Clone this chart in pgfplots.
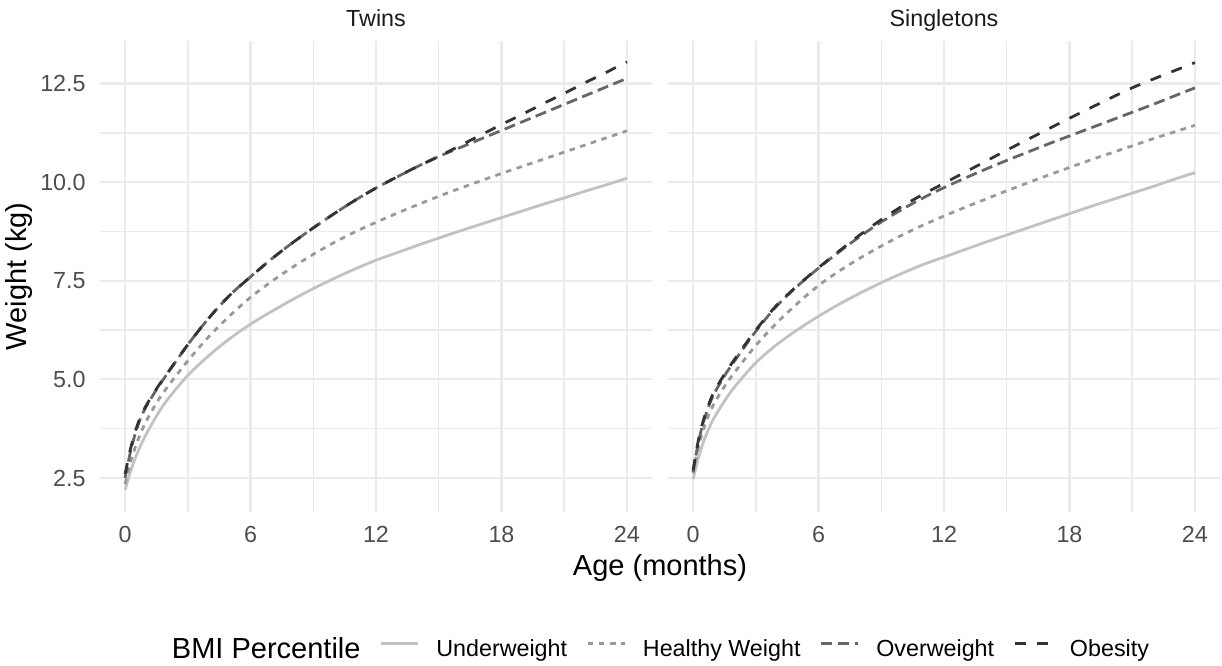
\documentclass[border=0pt]{standalone}
\usepackage{pgfplots}
\pgfplotsset{compat=1.18}
\usepackage{pgfplotstable}
\usepackage{fontspec}
\setmainfont{Liberation Sans}
\definecolor{gridc}{HTML}{EBEBEB}
\definecolor{tickc}{HTML}{4D4D4D}
\definecolor{stripc}{HTML}{1A1A1A}
\definecolor{cU}{HTML}{C2C2C2}
\definecolor{cH}{HTML}{999999}
\definecolor{cO}{HTML}{666666}
\definecolor{cB}{HTML}{333333}
\newcommand{\tickfont}{\fontsize{11.65}{13}\selectfont}
\newcommand{\bigfont}{\fontsize{14.5}{17}\selectfont}

\pgfplotstableread{
m u h ov ob
0 2.20 2.35 2.50 2.60
0.25 2.65 2.88 3.15 3.22
0.5 3.02 3.30 3.65 3.70
0.75 3.33 3.64 4.03 4.07
1 3.60 3.93 4.30 4.33
1.5 4.07 4.40 4.74 4.76
2 4.47 4.79 5.13 5.14
3 5.10 5.47 5.88 5.88
4 5.60 6.08 6.55 6.55
5 6.03 6.61 7.13 7.13
6 6.40 7.08 7.60 7.60
7 6.72 7.48 8.05 8.05
8 7.02 7.84 8.46 8.46
9 7.30 8.17 8.84 8.84
10 7.56 8.47 9.20 9.20
11 7.80 8.74 9.54 9.54
12 8.02 8.98 9.85 9.85
13 8.21 9.21 10.13 10.13
14 8.40 9.43 10.40 10.40
15 8.58 9.64 10.65 10.65
16 8.76 9.84 10.87 10.92
17 8.93 10.03 11.09 11.19
18 9.10 10.22 11.31 11.46
19 9.27 10.40 11.53 11.72
20 9.44 10.58 11.75 11.99
21 9.60 10.76 11.97 12.25
22 9.77 10.94 12.19 12.52
23 9.93 11.12 12.41 12.78
24 10.10 11.30 12.63 13.05
}\twins

\pgfplotstableread{
m u h ov ob
0 2.47 2.62 2.65 2.70
0.25 3.00 3.28 3.40 3.45
0.5 3.42 3.74 3.93 3.98
0.75 3.75 4.10 4.32 4.37
1 4.02 4.38 4.63 4.68
1.5 4.45 4.82 5.09 5.13
2 4.82 5.19 5.48 5.52
3 5.42 5.86 6.22 6.25
4 5.88 6.43 6.86 6.88
5 6.26 6.93 7.37 7.38
6 6.60 7.38 7.82 7.83
7 6.91 7.75 8.24 8.26
8 7.19 8.08 8.63 8.67
9 7.45 8.38 8.99 9.05
10 7.69 8.66 9.31 9.39
11 7.91 8.91 9.60 9.69
12 8.10 9.14 9.86 9.97
13 8.29 9.36 10.10 10.25
14 8.48 9.57 10.33 10.53
15 8.66 9.78 10.55 10.81
16 8.84 9.98 10.76 11.08
17 9.02 10.18 10.97 11.35
18 9.20 10.37 11.17 11.62
19 9.38 10.56 11.37 11.88
20 9.55 10.74 11.57 12.14
21 9.72 10.92 11.77 12.39
22 9.89 11.10 11.97 12.61
23 10.07 11.27 12.18 12.82
24 10.24 11.44 12.39 13.03
}\singles

\pgfplotsset{
  panel/.style={
    scale only axis, width=276pt, height=235.75pt,
    xmin=-1.2, xmax=25.2, ymin=1.638, ymax=13.59,
    xtick={0,6,12,18,24}, minor xtick={3,9,15,21},
    ytick={2.5,5,7.5,10,12.5}, minor ytick={3.75,6.25,8.75,11.25},
    xticklabels={0,6,12,18,24},
    grid=both,
    major grid style={draw=gridc, line width=1.1pt},
    minor grid style={draw=gridc, line width=0.75pt},
    axis line style={draw=none},
    major tick length=0pt, minor tick length=0pt,
    tick style={draw=none},
    /pgf/number format/assume math mode=true,
    every tick label/.append style={font=\tickfont, text=tickc},
    xticklabel style={anchor=base, inner sep=0pt, yshift=-15.2pt},
    yticklabel style={anchor=east, inner sep=0pt, xshift=-7pt},
    every axis title/.style={at={(axis description cs:0.5,1)}, anchor=base, yshift=6.9pt, font=\tickfont, text=stripc, inner sep=0pt},
    every axis plot/.append style={line width=1.4pt, smooth, tension=0.5, no markers},
    legend image code/.code={\draw[#1] (0pt,0.6ex) -- (18.5pt,0.6ex);},
  },
  sU/.style={cU},
  sH/.style={cH, dash pattern=on 2.8pt off 2.8pt},
  sO/.style={cO, dash pattern=on 5.6pt off 2.8pt},
  sB/.style={cB, dash pattern=on 5.6pt off 5.6pt},
}

\begin{document}
\begin{tikzpicture}
\path[use as bounding box] (0pt,0pt) rectangle (611pt,332.5pt);
\begin{axis}[panel, at={(50pt,76.5pt)}, anchor=south west,
  title={Twins},
  yticklabels={2.5,5.0,7.5,10.0,12.5},
  xlabel={Age (months)}, ylabel={Weight (kg)},
  every axis x label/.style={at={(axis description cs:1.0145,-0.1188)}, anchor=center, font=\bigfont},
  every axis y label/.style={at={(axis description cs:-0.1467,0.5)}, rotate=90, anchor=center, font=\bigfont},
  legend style={at={(axis description cs:0.0996,-0.2923)}, anchor=west, draw=none, fill=none,
    inner sep=0pt, outer sep=0pt, legend columns=-1,
    nodes={inner sep=0pt, font=\tickfont},
    /tikz/every odd column/.append style={column sep=8.5pt},
    /tikz/every even column/.append style={column sep=9.5pt}},
  legend cell align=left,
]
\addlegendimage{empty legend}\addlegendentry{\bigfont BMI Percentile}
\addplot[sU] table[x=m,y=u]{\twins};\addlegendentry{Underweight}
\addplot[sH] table[x=m,y=h]{\twins};\addlegendentry{Healthy Weight}
\addplot[sO] table[x=m,y=ov]{\twins};\addlegendentry{Overweight}
\addplot[sB] table[x=m,y=ob]{\twins};\addlegendentry{Obesity}
\end{axis}
\begin{axis}[panel, at={(334pt,76.5pt)}, anchor=south west,
  title={Singletons},
  yticklabels={},
]
\addplot[sU] table[x=m,y=u]{\singles};
\addplot[sH] table[x=m,y=h]{\singles};
\addplot[sO] table[x=m,y=ov]{\singles};
\addplot[sB] table[x=m,y=ob]{\singles};
\end{axis}
\end{tikzpicture}
\end{document}
